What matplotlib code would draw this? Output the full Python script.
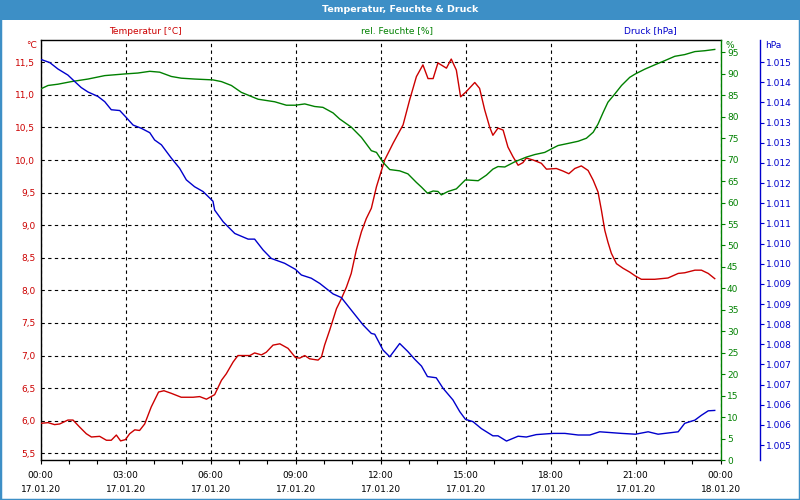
import matplotlib
matplotlib.use("Agg")
import matplotlib.pyplot as plt
from matplotlib.ticker import FixedLocator, FuncFormatter, MultipleLocator
from matplotlib.patches import Rectangle

# Messwerte 17.01.20, Zeit in Stunden ab 00:00
temp_t = [0.0, 0.26, 0.49, 0.67, 0.96, 1.14, 1.38, 1.61, 1.79, 2.08, 2.32, 2.49, 2.67, 2.82, 2.99,
          3.14, 3.32, 3.49, 3.67, 3.90, 4.16, 4.35, 4.61, 4.96, 5.38, 5.61, 5.85, 6.14, 6.38, 6.55,
          6.79, 6.96, 7.20, 7.38, 7.55, 7.79, 7.96, 8.20, 8.44, 8.73, 8.99, 9.14, 9.32, 9.49, 9.79,
          9.91, 10.02, 10.20, 10.44, 10.61, 10.79, 10.96, 11.14, 11.32, 11.49, 11.67, 11.85, 12.14,
          12.44, 12.79, 13.02, 13.26, 13.49, 13.67, 13.85, 14.02, 14.32, 14.49, 14.67, 14.82, 15.02,
          15.32, 15.49, 15.67, 15.85, 15.96, 16.14, 16.32, 16.49, 16.67, 16.85, 17.02, 17.14, 17.38,
          17.67, 17.85, 18.20, 18.44, 18.64, 18.85, 19.08, 19.32, 19.50, 19.67, 19.79, 19.91, 20.02,
          20.14, 20.32, 20.55, 20.79, 20.99, 21.20, 21.67, 22.14, 22.50, 22.73, 23.09, 23.32, 23.56,
          23.79]
temp_v = [5.96, 5.97, 5.94, 5.95, 6.01, 6.01, 5.90, 5.80, 5.75, 5.76, 5.70, 5.70, 5.78, 5.69, 5.71,
          5.80, 5.86, 5.85, 5.95, 6.21, 6.44, 6.46, 6.42, 6.36, 6.36, 6.37, 6.33, 6.40, 6.62, 6.72,
          6.90, 7.00, 7.00, 7.00, 7.04, 7.01, 7.05, 7.16, 7.18, 7.11, 6.97, 6.96, 7.00, 6.95, 6.93,
          6.98, 7.16, 7.39, 7.72, 7.87, 8.05, 8.26, 8.62, 8.90, 9.10, 9.26, 9.59, 10.00,
          10.26, 10.54, 10.92, 11.28, 11.46, 11.25, 11.25, 11.49, 11.41, 11.55, 11.38, 10.97, 11.05,
          11.19, 11.10, 10.77, 10.50, 10.38, 10.49, 10.46, 10.20, 10.05, 9.92, 9.96, 10.03, 10.00,
          9.95, 9.86, 9.87, 9.83, 9.79, 9.87, 9.91, 9.84, 9.69, 9.51, 9.23, 8.92, 8.74,
          8.57, 8.41, 8.34, 8.28, 8.22, 8.17, 8.17, 8.19, 8.26, 8.27, 8.31, 8.31, 8.26,
          8.18]

feuchte_t = [0.0, 0.26, 0.61, 1.08, 1.67, 2.26, 2.99, 3.43, 3.85, 4.20, 4.61, 4.96, 5.43, 6.08, 6.38,
             6.73, 7.08, 7.67, 8.26, 8.67, 8.99, 9.32, 9.67, 9.96, 10.32, 10.55, 10.96, 11.32, 11.67,
             11.85, 12.08, 12.32, 12.67, 12.96, 13.26, 13.44, 13.65, 13.85, 14.02, 14.14, 14.38, 14.67,
             14.99, 15.44, 15.73, 15.96, 16.14, 16.38, 16.73, 17.14, 17.44, 17.79, 18.08, 18.26, 18.62,
             18.97, 19.26, 19.50, 19.67, 19.85, 20.02, 20.26, 20.50, 20.79, 20.99, 21.32, 21.67, 22.03,
             22.38, 22.73, 23.09, 23.44, 23.79]
feuchte_v = [86.5, 87.3, 87.6, 88.2, 88.8, 89.6, 90.0, 90.2, 90.6, 90.4, 89.4, 89.0, 88.8, 88.6, 88.2,
             87.3, 85.7, 84.1, 83.5, 82.7, 82.7, 83.0, 82.4, 82.2, 80.9, 79.5, 77.6, 75.2, 72.1,
             71.7, 69.4, 67.7, 67.4, 66.7, 64.7, 63.6, 62.2, 62.7, 62.6, 61.8, 62.6, 63.2,
             65.3, 65.1, 66.4, 67.8, 68.4, 68.3, 69.5, 70.6, 71.2, 71.7, 72.7, 73.3, 73.8,
             74.3, 75.0, 76.4, 78.3, 81.0, 83.4, 85.3, 87.3, 89.2, 90.0, 91.1, 92.1, 93.1,
             94.1, 94.5, 95.2, 95.4, 95.7]

druck_t = [0.0, 0.32, 0.61, 0.96, 1.20, 1.43, 1.67, 2.02, 2.26, 2.49, 2.79, 2.99, 3.26, 3.55, 3.85,
           4.02, 4.26, 4.61, 4.90, 5.14, 5.43, 5.73, 6.08, 6.14, 6.44, 6.85, 7.32, 7.55, 7.85, 8.14,
           8.61, 8.99, 9.20, 9.55, 9.85, 10.32, 10.61, 10.96, 11.38, 11.67, 11.79, 12.08, 12.32, 12.67,
           12.96, 13.20, 13.44, 13.65, 13.96, 14.20, 14.55, 14.79, 14.99, 15.26, 15.55, 15.96, 16.14,
           16.44, 16.85, 17.14, 17.49, 18.08, 18.50, 18.97, 19.38, 19.73, 20.50, 20.99, 21.44, 21.79,
           22.50, 22.73, 23.09, 23.32, 23.56, 23.79]
druck_v = [1014.87, 1014.79, 1014.63, 1014.48, 1014.32, 1014.17, 1014.06, 1013.95, 1013.82, 1013.62,
           1013.60, 1013.45, 1013.24, 1013.16, 1013.05, 1012.87, 1012.75, 1012.42, 1012.17, 1011.88,
           1011.71, 1011.59, 1011.35, 1011.13, 1010.84, 1010.55, 1010.41, 1010.41, 1010.14, 1009.93,
           1009.81, 1009.66, 1009.52, 1009.44, 1009.31, 1009.05, 1008.96, 1008.65, 1008.28, 1008.07,
           1008.05, 1007.66, 1007.49, 1007.82, 1007.62, 1007.43, 1007.26, 1007.00, 1006.97, 1006.71,
           1006.42, 1006.13, 1005.94, 1005.88, 1005.71, 1005.53, 1005.53, 1005.40, 1005.52, 1005.50,
           1005.56, 1005.59, 1005.59, 1005.55, 1005.55, 1005.63, 1005.59, 1005.57, 1005.63, 1005.57,
           1005.63, 1005.84, 1005.92, 1006.04, 1006.15, 1006.16]

x_ticks = [0, 3, 6, 9, 12, 15, 18, 21, 24]
x_labels = ["00:00\n17.01.20", "03:00\n17.01.20", "06:00\n17.01.20", "09:00\n17.01.20",
            "12:00\n17.01.20", "15:00\n17.01.20", "18:00\n17.01.20", "21:00\n17.01.20",
            "00:00\n18.01.20"]
druck_ticks = [1014.8 - 0.5 * k for k in range(20)]

rot = "#cc0000"
gruen = "#008000"
blau = "#0000cc"
balken = "#3d8fc6"
fs = 6.5

plt.rcParams["font.family"] = "DejaVu Sans"

fig = plt.figure(figsize=(8, 5), dpi=100)
fig.patch.set_facecolor("white")

# Titelleiste und Rahmen
fig.add_artist(Rectangle((0, 480 / 500), 1, 20 / 500, transform=fig.transFigure,
                         facecolor=balken, edgecolor="none"))
fig.add_artist(Rectangle((0, 0), 1, 1, transform=fig.transFigure, fill=False,
                         edgecolor=balken, lw=2.5))
fig.text(0.5, 1 - 9.5 / 500, "Temperatur, Feuchte & Druck", color="white", fontsize=6.8,
         fontweight="bold", ha="center", va="center")

ax = fig.add_axes([40.7 / 800, 40 / 500, 680 / 800, 420 / 500])
ax.plot(temp_t, temp_v, color=rot, lw=1.0, zorder=3)
ax.set_xlim(0, 24)
ax.set_ylim(5.397, 11.842)
ax.yaxis.set_major_locator(MultipleLocator(0.5))
ax.yaxis.set_major_formatter(FuncFormatter(lambda v, p: f"{v:.1f}".replace(".", ",")))
ax.xaxis.set_major_locator(FixedLocator(x_ticks))
ax.set_xticklabels(x_labels, fontsize=fs, linespacing=1.75)
ax.xaxis.set_minor_locator(MultipleLocator(1))
ax.tick_params(axis="x", which="both", direction="out", length=3, width=0.8, pad=5)
ax.tick_params(axis="y", length=0, pad=4, labelcolor=rot, labelsize=fs)
ax.grid(True, color="black", linestyle=(0, (3, 3)), lw=0.8)
ax.set_axisbelow(True)
for s in ["left", "top", "bottom"]:
    ax.spines[s].set_linewidth(1.0)
ax.spines["right"].set_visible(False)

ax2 = ax.twinx()
ax2.plot(feuchte_t, feuchte_v, color=gruen, lw=1.0, zorder=3)
ax2.set_ylim(0, 97.9)
ax2.yaxis.set_major_locator(MultipleLocator(5))
ax2.tick_params(axis="y", direction="out", length=3, width=0.8, color=gruen,
                labelcolor=gruen, labelsize=fs, pad=1.5)
ax2.spines["right"].set_color(gruen)
ax2.spines["right"].set_linewidth(1.0)
for s in ["left", "top", "bottom"]:
    ax2.spines[s].set_visible(False)

ax3 = ax.twinx()
ax3.plot(druck_t, druck_v, color=blau, lw=1.0, zorder=3)
ax3.set_ylim(1004.93, 1015.35)
ax3.yaxis.set_major_locator(FixedLocator(druck_ticks))
ax3.yaxis.set_major_formatter(FuncFormatter(lambda v, p: f"{round(v):,}".replace(",", ".")))
ax3.spines["right"].set_position(("axes", (760 - 40.7) / 680))
ax3.spines["right"].set_color(blau)
ax3.spines["right"].set_linewidth(1.0)
for s in ["left", "top", "bottom"]:
    ax3.spines[s].set_visible(False)
ax3.tick_params(axis="y", direction="out", length=3, width=0.8, color=blau,
                labelcolor=blau, labelsize=fs, pad=1.5)

# Achsenbeschriftungen ueber dem Diagramm
fig.text(145 / 800, 1 - 31 / 500, "Temperatur [°C]", color=rot, fontsize=fs, ha="center", va="center")
fig.text(397 / 800, 1 - 31 / 500, "rel. Feuchte [%]", color=gruen, fontsize=fs, ha="center", va="center")
fig.text(650 / 800, 1 - 31 / 500, "Druck [hPa]", color=blau, fontsize=fs, ha="center", va="center")
fig.text(37 / 800, 1 - 45 / 500, "°C", color=rot, fontsize=fs, ha="right", va="center")
fig.text(726 / 800, 1 - 45 / 500, "%", color=gruen, fontsize=fs, ha="left", va="center")
fig.text(765 / 800, 1 - 45 / 500, "hPa", color=blau, fontsize=fs, ha="left", va="center")

fig.savefig("out.png", dpi=100)
